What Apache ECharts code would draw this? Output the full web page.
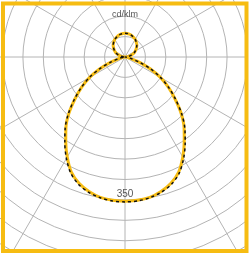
<!DOCTYPE html>
<html>
<head>
<meta charset="utf-8">
<script src="https://cdn.jsdelivr.net/npm/echarts@6/dist/echarts.min.js"></script>
<style>
  html, body { margin: 0; padding: 0; background: #fff; }
  #main { width: 250px; height: 257px; }
</style>
</head>
<body>
<div id="main"></div>
<script>
  // angle from nadir (0 = straight down), one half, mirrored for the other
  var angles = [0,5,10,15,20,25,30,35,40,45,50,55,60,65,70,75,80,85,90,
                95,100,105,110,115,120,125,130,135,140,145,150,155,160,165,170,175,180]
  // cd/klm, C0-C180 plane (solid)
  var planeA = [353,352,349,341,329,311,283,253,225,194,160,130,100,68,38,17,6,2,0,
                5,10,15,20,25,29,33,37,41,44,47,50,52,54,56,57,58,58]
  // cd/klm, C90-C270 plane (dashed)
  var planeB = [355,354,350,343,332,314,287,257,228,196,162,131,101,69,38,17,6,2,0,
                5,10,15,20,25,29,33,37,41,44,47,50,52,54,56,57,58,58]
  var unitLabel = 'cd/klm'
  var maxLabel = '350'

  function closedCurve(vals) {
    var pts = []
    for (var i = 0; i < angles.length; i++) {
      pts.push([vals[i], angles[i]])
    }
    for (var j = angles.length - 2; j >= 0; j--) {
      pts.push([vals[j], 360 - angles[j]])
    }
    return pts
  }

  var chart = echarts.init(document.getElementById('main'))
  chart.setOption({
    backgroundColor: '#fff',
    animation: false,
    polar: {
      center: [125, 57],
      radius: 245
    },
    angleAxis: {
      type: 'value',
      min: 0,
      max: 360,
      interval: 30,
      startAngle: 270,
      axisLine: { show: false },
      axisTick: { show: false },
      axisLabel: { show: false },
      splitLine: { show: true, lineStyle: { color: '#b4b4b4', width: 1 } }
    },
    radiusAxis: {
      type: 'value',
      min: 0,
      max: 600,
      interval: 50,
      axisLine: { show: false },
      axisTick: { show: false },
      axisLabel: { show: false },
      splitLine: { show: true, lineStyle: { color: '#b4b4b4', width: 1 } }
    },
    series: [
      {
        name: 'C0-C180',
        type: 'line',
        coordinateSystem: 'polar',
        smooth: 0.3,
        showSymbol: false,
        lineStyle: { color: '#f6bc12', width: 3 },
        data: closedCurve(planeA),
        z: 3
      },
      {
        name: 'C90-C270',
        type: 'line',
        coordinateSystem: 'polar',
        smooth: 0.3,
        showSymbol: false,
        lineStyle: { color: '#111', width: 1.5, type: [3, 3] },
        data: closedCurve(planeB),
        z: 4
      }
    ],
    graphic: [
      { type: 'rect', z: 100, shape: { x: 0, y: 253, width: 250, height: 4 }, style: { fill: '#fff' } },
      { type: 'rect', z: 100, shape: { x: 248, y: 0, width: 2, height: 257 }, style: { fill: '#fff' } },
      { type: 'rect', z: 101, shape: { x: 3, y: 3.5, width: 243.5, height: 247.5 },
        style: { fill: 'none', stroke: '#f6bc12', lineWidth: 4 } },
      { type: 'text', z: 102, x: 125, y: 15,
        style: { text: unitLabel, fill: '#555', font: '9px "Liberation Sans", Arial, sans-serif',
                 textAlign: 'center', textVerticalAlign: 'middle' } },
      { type: 'text', z: 102, x: 125, y: 194,
        style: { text: maxLabel, fill: '#555', font: '10px "Liberation Sans", Arial, sans-serif',
                 textAlign: 'center', textVerticalAlign: 'middle' } }
    ]
  })
</script>
</body>
</html>
